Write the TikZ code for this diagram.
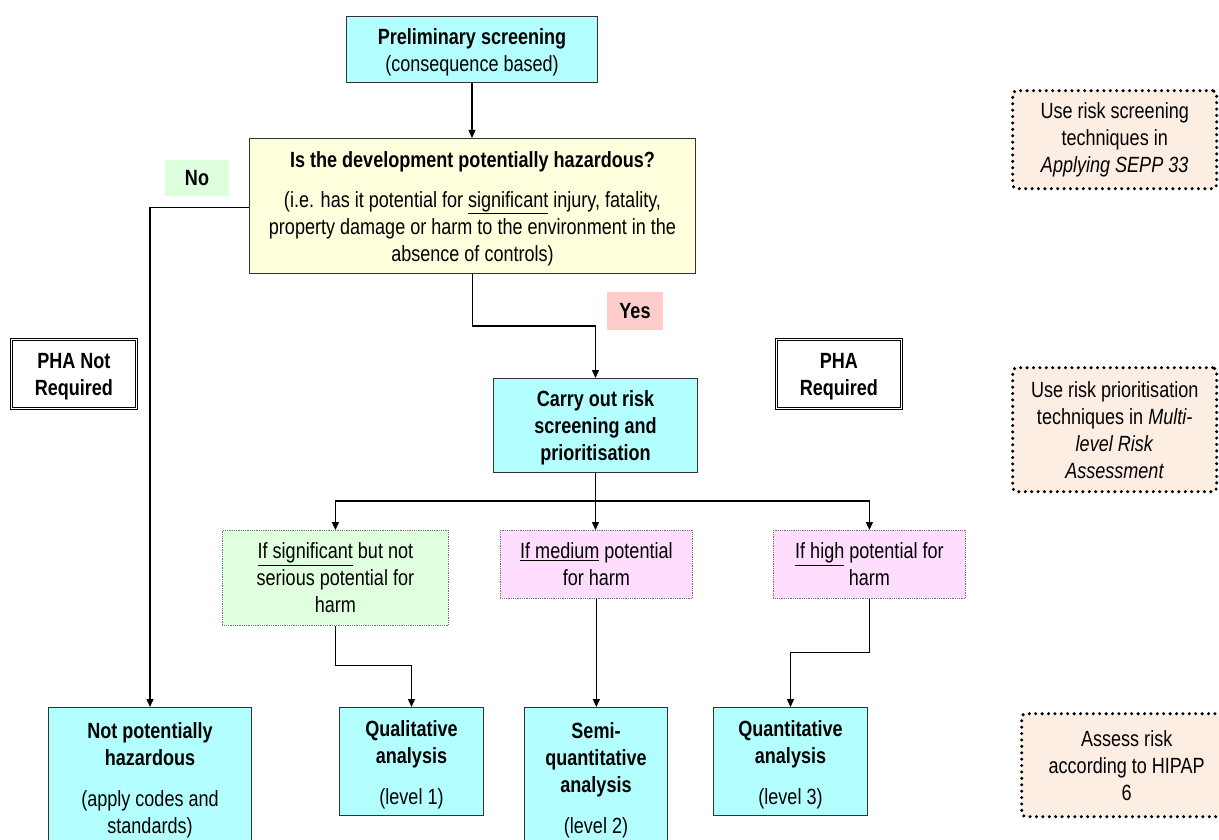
\documentclass[tikz,border=0pt]{standalone}
\usepackage{fontspec}
\setmainfont{Liberation Sans}[FakeStretch=0.82]
\usetikzlibrary{positioning,arrows.meta,calc}
\definecolor{boxcyan}{RGB}{179,255,255}
\definecolor{boxyellow}{RGB}{255,255,221}
\definecolor{labgreen}{RGB}{221,255,221}
\definecolor{labpink}{RGB}{255,204,204}
\definecolor{boxgreen}{RGB}{223,255,223}
\definecolor{boxpink}{RGB}{255,221,255}
\definecolor{notepeach}{RGB}{253,238,227}
\tikzset{
  base/.style={align=center, anchor=north west, inner sep=2pt, font=\fontsize{22}{27}\selectfont},
  cyanbox/.style={base, draw=black!80, line width=1pt, fill=boxcyan},
  askbox/.style={base, draw=black!80, line width=1pt, fill=boxyellow},
  ifbox/.style={base, draw=black!55, line width=0.8pt, densely dotted},
  phabox/.style={base, draw=black, double, double distance=1.6pt, line width=0.8pt, fill=white},
  notebox/.style={base, draw=black, fill=notepeach, line width=3.4pt, line cap=round,
    dash pattern=on 0pt off 6.4pt, rounded corners=4pt},
  label/.style={align=center, inner sep=0pt, font=\fontsize{22}{27}\selectfont\bfseries},
  arr/.style={-{Triangle[width=7pt,length=8pt]}, line width=1.3pt},
  link/.style={line width=1.3pt}
}
\begin{document}
\begin{tikzpicture}[x=1pt, y=-1pt]
  \useasboundingbox (0,0) rectangle (1219,840);
  \node[cyanbox, minimum width=251pt, minimum height=66pt] (prelim) at (346,16)
    {\rule{0pt}{22pt}\textbf{Preliminary screening}\\(consequence based)};
  \node[askbox, minimum width=446pt, minimum height=135pt] (hazard) at (249,138)
    {\rule{0pt}{22pt}\textbf{Is the development potentially hazardous?}\\[13pt]
     (i.e. has it potential for \underline{significant} injury, fatality,\\
     property damage or harm to the environment in the\\absence of controls)};
  \node[label, fill=labgreen, minimum width=64pt, minimum height=36pt] (no) at (197,178) {No};
  \node[label, fill=labpink, minimum width=56pt, minimum height=38pt] (yes) at (635,311) {Yes};
  \node[phabox, font=\fontsize{22}{27}\selectfont\bfseries, minimum width=125pt, minimum height=69pt] (phano) at (11,339)
    {\rule{0pt}{21pt}PHA Not\\Required};
  \node[phabox, font=\fontsize{22}{27}\selectfont\bfseries, minimum width=125pt, minimum height=69pt] (phayes) at (776,339)
    {\rule{0pt}{21pt}PHA\\Required};
  \node[cyanbox, font=\fontsize{22}{27}\selectfont\bfseries, minimum width=204pt, minimum height=94pt] (carry) at (493,378)
    {\rule{0pt}{21pt}Carry out risk\\screening and\\prioritisation};
  \node[ifbox, fill=boxgreen, minimum width=226pt, minimum height=95pt] (ifsig) at (222,530)
    {\underline{If significant} but not\\serious potential for\\harm};
  \node[ifbox, fill=boxpink, minimum width=192pt, minimum height=68pt] (ifmed) at (500,530)
    {\underline{If medium} potential\\for harm};
  \node[ifbox, fill=boxpink, minimum width=192pt, minimum height=68pt] (ifhigh) at (773,530)
    {\underline{If high} potential for\\harm};
  \node[cyanbox, minimum width=203pt, minimum height=145pt] (nph) at (48,707)
    {\textbf{Not potentially}\\\textbf{hazardous}\\[14pt](apply codes and\\standards)};
  \node[cyanbox, minimum width=144pt, minimum height=108pt] (qual) at (339,707)
    {\rule{0pt}{22pt}\textbf{Qualitative}\\\textbf{analysis}\\[14pt](level 1)};
  \node[cyanbox, minimum width=143pt, minimum height=145pt] (semi) at (524,707)
    {\textbf{Semi-}\\\textbf{quantitative}\\\textbf{analysis}\\[14pt](level 2)};
  \node[cyanbox, minimum width=154pt, minimum height=108pt] (quant) at (713,707)
    {\rule{0pt}{22pt}\textbf{Quantitative}\\\textbf{analysis}\\[14pt](level 3)};
  \node[notebox, minimum width=204pt, minimum height=98pt] (screen) at (1011,89)
    {Use risk screening\\techniques in\\\textit{Applying SEPP 33}};
  \node[notebox, minimum width=204pt, minimum height=124pt] (prior) at (1011,366)
    {Use risk prioritisation\\techniques in \textit{Multi-}\\\textit{level Risk}\\\textit{Assessment}};
  \node[notebox, minimum width=210pt, minimum height=103pt] (hipap) at (1020,712)
    {Assess risk\\according to HIPAP\\6};
  \draw[arr] (prelim.south) -- (prelim.south |- hazard.north);
  \draw[arr] ($(hazard.west)+(0,1.5)$) -| (nph.north);
  \draw[arr] (hazard.south) -- ++(0,52) -| (carry.north);
  \draw[link] (carry.south) -- ++(0,28) coordinate (split);
  \draw[arr] (split) -| (ifsig.north);
  \draw[arr] (split) -| (ifhigh.north);
  \draw[arr] (split) -- (split |- ifmed.north);
  \draw[arr] (ifsig.south) -- ++(0,40) -| (qual.north);
  \draw[arr] (ifmed.south) -- (ifmed.south |- semi.north);
  \draw[arr] (ifhigh.south) -- ++(0,54) -| (quant.north);
\end{tikzpicture}
\end{document}
